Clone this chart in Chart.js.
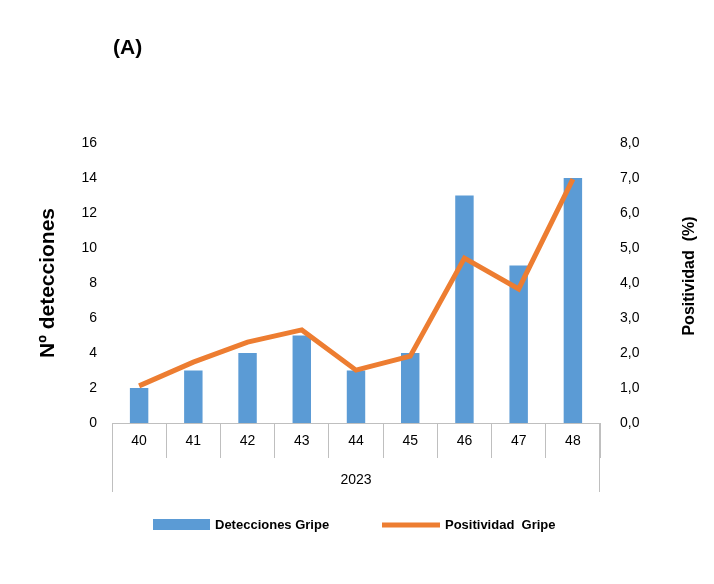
<!DOCTYPE html>
<html><head><meta charset="utf-8">
<script src="https://cdn.jsdelivr.net/npm/chart.js@4"></script>
<style>html,body{margin:0;padding:0;background:#fff}</style>
</head><body>
<canvas id="c" width="714" height="584" style="width:714px;height:584px"></canvas>
<script>
// Semanas y datos
const semanas = ['40', '41', '42', '43', '44', '45', '46', '47', '48'];
const detecciones = [2, 3, 4, 5, 3, 4, 13, 9, 14];
const positividad = [1.06, 1.74, 2.31, 2.66, 1.51, 1.91, 4.71, 3.83, 6.97];
const anio = '2023';

const AZUL = '#5b9bd5', NARANJA = '#ed7d31', GRIS = '#bfbfbf';
const FUENTE = "'Liberation Sans', Arial, sans-serif";

// Dibujo de título, títulos de ejes, fila del año y leyenda
const extras = {
  id: 'extras',
  afterDraw(chart) {
    const ctx = chart.ctx, a = chart.chartArea;
    const midY = (a.top + a.bottom) / 2;
    ctx.save();
    ctx.fillStyle = '#000';
    ctx.font = 'bold 21px ' + FUENTE;
    ctx.textBaseline = 'middle';
    ctx.fillText('(A)', 113, 48);
    // títulos de ejes (ambos leen de abajo arriba)
    ctx.textAlign = 'center';
    ctx.save(); ctx.translate(48, midY); ctx.rotate(-Math.PI / 2);
    ctx.fillText('Nº detecciones', 0, 0); ctx.restore();
    ctx.font = 'bold 16px ' + FUENTE;
    ctx.save(); ctx.translate(690, midY - 7); ctx.rotate(-Math.PI / 2);
    ctx.fillText('Positividad  (%)', 0, 0); ctx.restore();
    // fila del año
    ctx.strokeStyle = GRIS; ctx.lineWidth = 1;
    ctx.beginPath();
    ctx.moveTo(a.left + 0.5, a.bottom); ctx.lineTo(a.left + 0.5, 492);
    ctx.moveTo(a.right - 0.5, a.bottom); ctx.lineTo(a.right - 0.5, 492);
    ctx.stroke();
    ctx.font = '14px ' + FUENTE;
    ctx.fillText(anio, (a.left + a.right) / 2, 480);
    // leyenda
    ctx.textAlign = 'left';
    ctx.font = 'bold 13px ' + FUENTE;
    ctx.fillStyle = AZUL;
    ctx.fillRect(153, 519, 57, 11);
    ctx.fillStyle = '#000';
    ctx.fillText('Detecciones Gripe', 215, 525);
    ctx.strokeStyle = NARANJA; ctx.lineWidth = 5;
    ctx.beginPath(); ctx.moveTo(382, 525); ctx.lineTo(440, 525); ctx.stroke();
    ctx.fillText('Positividad  Gripe', 445, 525);
    ctx.restore();
  }
};

new Chart(document.getElementById('c'), {
  data: {
    labels: semanas,
    datasets: [
      { type: 'line', label: 'Positividad Gripe', data: positividad, yAxisID: 'y2',
        borderColor: NARANJA, borderWidth: 5, pointRadius: 0, tension: 0, order: 0 },
      { type: 'bar', label: 'Detecciones Gripe', data: detecciones, yAxisID: 'y',
        backgroundColor: AZUL, barPercentage: 0.34, categoryPercentage: 1, order: 1 }
    ]
  },
  options: {
    responsive: false,
    animation: false,
    layout: { padding: { top: 143, bottom: 0, left: 0, right: 0 } },
    plugins: { legend: { display: false }, tooltip: { enabled: false } },
    scales: {
      x: {
        offset: true,
        grid: { offset: true, drawOnChartArea: false, tickLength: 35, color: GRIS },
        border: { color: GRIS },
        ticks: { color: '#000', font: { size: 14, family: FUENTE }, padding: -25 },
        afterFit(s) { s.height = 584 - 423; }
      },
      y: {
        position: 'left', min: 0, max: 16,
        ticks: { stepSize: 2, color: '#000', font: { size: 14, family: FUENTE }, padding: 7 },
        grid: { display: false }, border: { display: false },
        afterFit(s) { s.width = 112; }
      },
      y2: {
        position: 'right', min: 0, max: 8,
        ticks: { stepSize: 1, color: '#000', font: { size: 14, family: FUENTE }, padding: 12,
                 callback: v => v.toFixed(1).replace('.', ',') },
        grid: { display: false }, border: { display: false },
        afterFit(s) { s.width = 114; }
      }
    }
  },
  plugins: [extras]
});
</script>
</body></html>
